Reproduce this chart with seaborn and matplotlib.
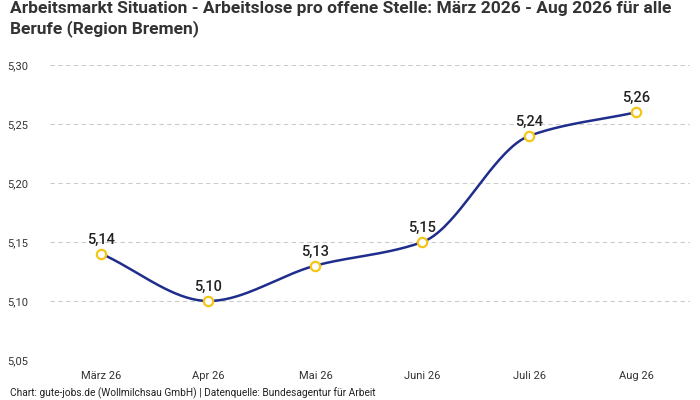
import numpy as np
import pandas as pd
import matplotlib
matplotlib.use("Agg")
import matplotlib.pyplot as plt
import seaborn as sns

months = ["März 26", "Apr 26", "Mai 26", "Juni 26", "Juli 26", "Aug 26"]
values = [5.14, 5.10, 5.13, 5.15, 5.24, 5.26]
yticks = [5.05, 5.10, 5.15, 5.20, 5.25, 5.30]

sns.set_style("white")
plt.rcParams['font.family'] = ['Roboto', 'DejaVu Sans']

df = pd.DataFrame({"x": np.arange(len(months)), "y": values})

# monotone cubic (Fritsch-Carlson) curve for display smoothing
def monotone(x, y, n=40):
    x = np.asarray(x, float); y = np.asarray(y, float)
    h = np.diff(x); d = np.diff(y) / h
    m = np.zeros_like(y)
    m[0], m[-1] = d[0], d[-1]
    for i in range(1, len(y) - 1):
        if d[i-1] * d[i] <= 0:
            m[i] = 0
        else:
            m[i] = 3 * (h[i-1] + h[i]) / ((2*h[i] + h[i-1]) / d[i-1] + (h[i] + 2*h[i-1]) / d[i])
    xs, ys = [], []
    for i in range(len(h)):
        t = np.linspace(0, 1, n)
        h00 = 2*t**3 - 3*t**2 + 1; h10 = t**3 - 2*t**2 + t
        h01 = -2*t**3 + 3*t**2; h11 = t**3 - t**2
        xs.append(x[i] + t*h[i])
        ys.append(h00*y[i] + h10*h[i]*m[i] + h01*y[i+1] + h11*h[i]*m[i+1])
    return np.concatenate(xs), np.concatenate(ys)

cx, cy = monotone(df.x, df.y)
fig = plt.figure(figsize=(7, 4), dpi=100)
ax = fig.add_axes([50/700, 40/400, 640/700, 295/400])
sns.lineplot(x=cx, y=cy, ax=ax, color="#1f2d8c", linewidth=1.8, sort=False)
sns.scatterplot(data=df, x="x", y="y", ax=ax, s=45, facecolor="white",
                edgecolor="#f5c518", linewidth=1.6, zorder=5)
for xi, yi in zip(df.x, df.y):
    ax.text(xi, yi + 0.006, f"{yi:.2f}".replace(".", ","), ha="center", va="bottom",
            fontsize=10.5, fontweight="medium", color="#222")

ax.set_xlim(-0.48, 5.5)
ax.set_ylim(5.05, 5.30)
ax.set_xticks(df.x)
ax.set_xticklabels(months, fontsize=8, color="#333")
ax.set_yticks(yticks)
ax.set_yticklabels([f"{v:.2f}".replace(".", ",") for v in yticks], fontsize=8, color="#333")
ax.yaxis.grid(True, linestyle=(0, (4, 3)), color="#cccccc", linewidth=0.8)
ax.tick_params(axis="y", length=0, pad=16)
ax.tick_params(axis="x", length=0, pad=8)
for s in ax.spines.values():
    s.set_visible(False)
ax.set_xlabel(""); ax.set_ylabel("")

fig.text(10/700, 1 - 1/400, "Arbeitsmarkt Situation - Arbeitslose pro offene Stelle: März 2026 - Aug 2026 für alle\nBerufe (Region Bremen)",
         fontsize=12.5, fontweight="bold", color="#333", va="top", linespacing=1.3, ha="left")
fig.text(10/700, 1 - 393/400, "Chart: gute-jobs.de (Wollmilchsau GmbH) | Datenquelle: Bundesagentur für Arbeit",
         fontsize=7.3, color="#222", va="center")
fig.savefig("out.png", dpi=100)
